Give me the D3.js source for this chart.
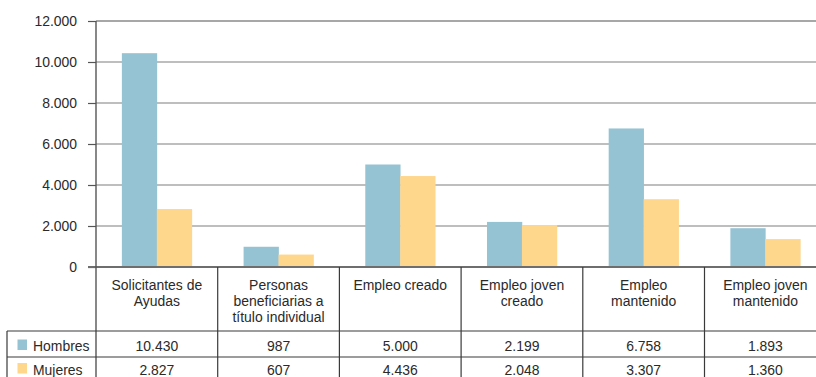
<!DOCTYPE html>
<html>
<head>
<meta charset="utf-8">
<script src="https://cdn.jsdelivr.net/npm/d3@7"></script>
<style>
  html, body { margin: 0; padding: 0; background: #fff; }
  svg { display: block; font-family: "Liberation Sans", Arial, sans-serif; }
</style>
</head>
<body>
<svg id="chart" width="816" height="377"></svg>
<script>
// Categories (header cells of the table; "\n" marks line breaks)
const categories = [
  "Solicitantes de\nAyudas",
  "Personas\nbeneficiarias a\ntítulo individual",
  "Empleo creado",
  "Empleo joven\ncreado",
  "Empleo\nmantenido",
  "Empleo joven\nmantenido"
];
const seriesNames = ["Hombres", "Mujeres"];
const hombres = [10430, 987, 5000, 2199, 6758, 1893];
const mujeres = [2827, 607, 4436, 2048, 3307, 1360];
const yTicks = [0, 2000, 4000, 6000, 8000, 10000, 12000];
const colors = ["#96c3d3", "#fed68c"];

const values = [hombres, mujeres];

const W = 816, H = 377;
const left = 96, colW = 121.7;
const baseY = 267, topY = 21;
const headerBottom = 331, row1Bottom = 357;
const tableLeft = 7;
// slightly condensed text
const FS = "15px", SX = 0.93, INK = "#2a2a2a";

const svg = d3.select("#chart");

const locale = d3.formatLocale({ decimal: ",", thousands: ".", grouping: [3], currency: ["", ""] });
const fmt = locale.format(",d");

function label(parent, x0, y0, str, anchor) {
  return parent.append("text")
    .attr("transform", `translate(${x0},${y0}) scale(${SX},1)`)
    .attr("text-anchor", anchor || "middle")
    .attr("fill", INK)
    .style("font-size", FS)
    .text(str);
}

const x = d3.scaleBand()
  .domain(categories)
  .range([left, left + colW * categories.length])
  .paddingInner(0).paddingOuter(0);

const xs = d3.scaleBand()
  .domain(seriesNames)
  .range([0, x.bandwidth()])
  .paddingInner(0).paddingOuter(0.74);

const y = d3.scaleLinear().domain([0, 12000]).range([baseY, topY]);

// Horizontal gridlines
svg.append("g").selectAll("line")
  .data(yTicks.filter(d => d > 0))
  .join("line")
  .attr("x1", left).attr("x2", W)
  .attr("y1", d => y(d)).attr("y2", d => y(d))
  .attr("stroke", d => d === 12000 ? "#8a8a8a" : "#a9a9a9")
  .attr("stroke-width", 1.5);

// Bars
const groups = svg.append("g").selectAll("g")
  .data(categories)
  .join("g")
  .attr("transform", d => `translate(${x(d)},0)`);

groups.selectAll("rect")
  .data((d, i) => seriesNames.map((s, k) => ({ s, v: values[k][i], k })))
  .join("rect")
  .attr("x", d => xs(d.s))
  .attr("width", xs.bandwidth() + 0.3)
  .attr("y", d => y(d.v))
  .attr("height", d => y(0) - y(d.v))
  .attr("fill", d => colors[d.k]);

// Y axis
const yAxis = d3.axisLeft(y).tickValues(yTicks).tickFormat(fmt).tickSize(8).tickPadding(11);
const gy = svg.append("g").attr("transform", `translate(${left},0)`).call(yAxis);
gy.select(".domain").remove();
gy.selectAll(".tick line").attr("stroke", "#555").attr("stroke-width", 1.2);
gy.selectAll(".tick text")
  .attr("fill", INK)
  .attr("x", -19 / SX)
  .attr("transform", `scale(${SX},1)`)
  .style("font-size", FS)
  .style("font-family", "'Liberation Sans', Arial, sans-serif");

// Baseline
svg.append("line")
  .attr("x1", left - 8).attr("x2", W)
  .attr("y1", baseY).attr("y2", baseY)
  .attr("stroke", "#6e6e6e").attr("stroke-width", 2);

// Vertical axis line running through the table
svg.append("line")
  .attr("x1", left).attr("x2", left)
  .attr("y1", topY).attr("y2", H)
  .attr("stroke", "#555").attr("stroke-width", 1.4);

// Table grid
const tbl = svg.append("g").attr("stroke", "#3a3a3a").attr("stroke-width", 1.2);
categories.forEach(c => {
  const xr = x(c) + x.bandwidth();
  tbl.append("line").attr("x1", xr).attr("x2", xr).attr("y1", baseY).attr("y2", H);
});
[headerBottom, row1Bottom].forEach(yy => {
  tbl.append("line").attr("x1", tableLeft).attr("x2", W).attr("y1", yy).attr("y2", yy);
});
tbl.append("line").attr("x1", tableLeft).attr("x2", tableLeft).attr("y1", headerBottom).attr("y2", H);

// Header cells (category names)
const txt = svg.append("g");
categories.forEach(c => {
  const cx = x(c) + x.bandwidth() / 2;
  c.split("\n").forEach((line, i) => label(txt, cx, 289.5 + i * 16, line));
});

// Value rows
const rowBaselines = [351, 374.5];
values.forEach((arr, k) => {
  arr.forEach((v, i) => {
    const c = categories[i];
    label(txt, x(c) + x.bandwidth() / 2, rowBaselines[k], fmt(v));
  });
});

// Series legend cells
seriesNames.forEach((s, k) => {
  svg.append("rect")
    .attr("x", 17.5).attr("y", rowBaselines[k] - 11.5)
    .attr("width", 9.5).attr("height", 10.5)
    .attr("fill", colors[k]);
  label(svg, 33, rowBaselines[k], s, "start");
});
</script>
</body>
</html>
